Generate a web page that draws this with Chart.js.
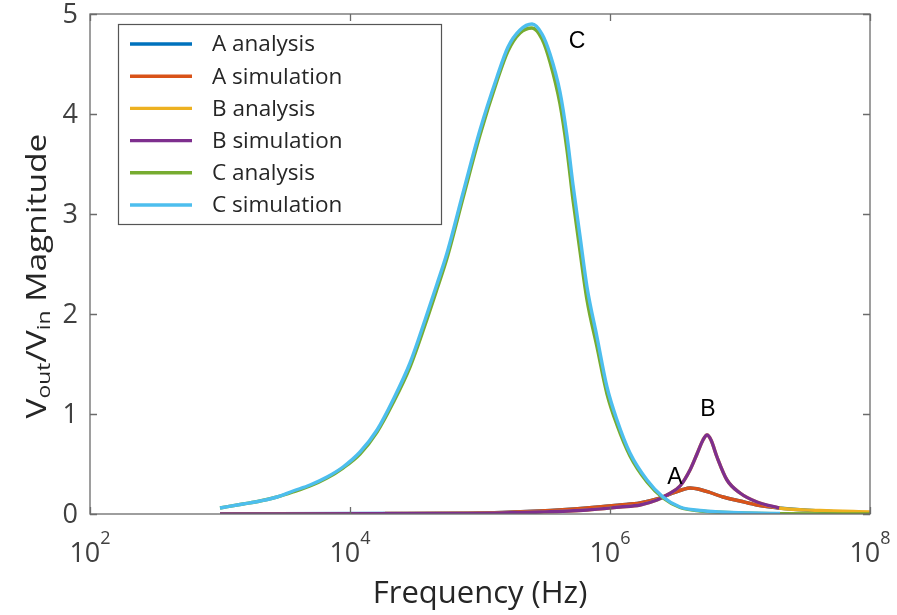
<!DOCTYPE html>
<html>
<head>
<meta charset="utf-8">
<script src="https://cdn.jsdelivr.net/npm/chart.js@4.4.0/dist/chart.umd.min.js"></script>
<style>
    html, body { margin: 0; padding: 0; background: #fff; }
    #wrap { width: 897px; height: 615px; }
</style>
</head>
<body>
<div id="wrap"><canvas id="grafico" width="897" height="615"></canvas></div>
<script>
// frecuencias (Hz) y magnitudes
const freqC = [1000, 1503, 2031, 2745, 3644, 4924, 6655, 8835, 11940, 16140, 21420, 28940, 37760, 46690, 55750, 74000, 100000, 135100, 164200, 203100, 251200, 299900, 345600, 412500, 466900, 519400, 587700, 665500, 794300, 948300, 1132000, 1425000, 1926000, 2557000, 3456000, 4924000, 7017000, 11940000, 20310000];
const cSim = [0.06, 0.10, 0.13, 0.17, 0.23, 0.29, 0.37, 0.47, 0.62, 0.84, 1.14, 1.51, 1.94, 2.30, 2.61, 3.21, 3.84, 4.37, 4.67, 4.84, 4.90, 4.80, 4.60, 4.22, 3.78, 3.29, 2.78, 2.27, 1.77, 1.27, 0.94, 0.61, 0.34, 0.17, 0.07, 0.035, 0.02, 0.01, 0.005];

const freqCa = [1000, 1503, 2031, 2745, 3644, 4924, 6655, 8835, 11940, 16140, 21420, 28940, 37760, 46690, 55750, 74000, 100000, 135100, 164200, 203100, 251200, 299900, 345600, 412500, 466900, 519400, 587700, 665500, 794300, 948300, 1132000, 1425000, 1926000, 2557000, 3456000, 4924000, 7017000, 11940000, 20310000, 100000000];
const cAna = [0.06, 0.10, 0.13, 0.17, 0.22, 0.28, 0.36, 0.46, 0.60, 0.82, 1.11, 1.47, 1.89, 2.25, 2.56, 3.16, 3.79, 4.33, 4.63, 4.81, 4.86, 4.75, 4.52, 4.10, 3.64, 3.14, 2.63, 2.14, 1.67, 1.20, 0.89, 0.58, 0.32, 0.16, 0.065, 0.03, 0.018, 0.008, 0.004, 0.0];

const freqA = [1000, 18590, 83770, 289400, 665500, 1194000, 1701000, 2299000, 3052000, 3644000, 4125000, 4924000, 5877000, 7400000, 10000000, 13510000, 20000000, 41250000, 100000000];
const aAna = [0.0, 0.005, 0.008, 0.03, 0.06, 0.09, 0.11, 0.15, 0.21, 0.245, 0.26, 0.245, 0.215, 0.17, 0.13, 0.09, 0.06, 0.03, 0.01];
const aSim = [null, 0.005, 0.008, 0.03, 0.06, 0.09, 0.11, 0.15, 0.21, 0.245, 0.26, 0.245, 0.215, 0.17, 0.13, 0.09, 0.06, null, null];

const freqB = [1000, 83770, 289400, 665500, 1194000, 1701000, 2299000, 2745000, 3456000, 4125000, 4669000, 5193000, 5575000, 5983000, 6655000, 7943000, 10000000, 13510000, 20000000, 41250000, 100000000];
const bAna = [0.0, 0.005, 0.02, 0.04, 0.07, 0.09, 0.14, 0.19, 0.28, 0.44, 0.60, 0.74, 0.79, 0.74, 0.57, 0.34, 0.21, 0.12, 0.06, 0.035, 0.02];
const bSim = [0.0, 0.005, 0.02, 0.04, 0.07, 0.09, 0.14, 0.19, 0.28, 0.44, 0.60, 0.74, 0.79, 0.74, 0.57, 0.34, 0.21, 0.12, 0.06, null, null];

const ticksX = [100, 10000, 1000000, 100000000];
const ticksXExp = ['2', '4', '6', '8'];
const ticksY = [0, 1, 2, 3, 4, 5];

const etiquetas = [
    { texto: 'C', x: 557000, y: 4.72 },
    { texto: 'B', x: 5675000, y: 1.04 },
    { texto: 'A', x: 3162000, y: 0.36 }
];

function puntos(fs, vs) {
    const out = [];
    for (let i = 0; i < fs.length; i++) {
        if (vs[i] !== null) out.push({ x: fs[i], y: vs[i] });
    }
    return out;
}

function serie(label, color, data, orden) {
    return {
        label: label,
        data: data,
        order: orden,
        borderColor: color,
        backgroundColor: color,
        borderWidth: 3.4,
        pointRadius: 0,
        fill: false,
        cubicInterpolationMode: 'monotone'
    };
}

const fuente = '"Open Sans", "Noto Sans", sans-serif';

const marcoPlugin = {
    id: 'marco',
    afterDraw(chart) {
        const ctx = chart.ctx;
        const a = chart.chartArea;
        const sx = chart.scales.x;
        const sy = chart.scales.y;
        ctx.save();

        // caja de ejes
        ctx.strokeStyle = '#6b6b6b';
        ctx.lineWidth = 1.3;
        ctx.strokeRect(a.left, a.top, a.right - a.left, a.bottom - a.top);

        // ticks hacia adentro
        ctx.beginPath();
        ticksX.forEach(v => {
            const px = Math.round(sx.getPixelForValue(v)) + 0.5;
            ctx.moveTo(px, a.bottom); ctx.lineTo(px, a.bottom - 7);
            ctx.moveTo(px, a.top); ctx.lineTo(px, a.top + 7);
        });
        ticksY.forEach(v => {
            const py = Math.round(sy.getPixelForValue(v)) + 0.5;
            ctx.moveTo(a.left, py); ctx.lineTo(a.left + 7, py);
            ctx.moveTo(a.right, py); ctx.lineTo(a.right - 7, py);
        });
        ctx.stroke();

        // etiquetas eje y
        ctx.fillStyle = '#404040';
        ctx.font = '27px ' + fuente;
        ctx.textAlign = 'right';
        ctx.textBaseline = 'middle';
        ticksY.forEach(v => {
            ctx.fillText(String(v), a.left - 12, sy.getPixelForValue(v) + 1);
        });

        // etiquetas eje x: 10 con exponente
        ticksX.forEach((v, i) => {
            const px = sx.getPixelForValue(v);
            ctx.font = '27px ' + fuente;
            const w1 = ctx.measureText('10').width;
            ctx.font = '18px ' + fuente;
            const w2 = ctx.measureText(ticksXExp[i]).width;
            const x0 = px - (w1 + w2) / 2;
            ctx.textAlign = 'left';
            ctx.textBaseline = 'alphabetic';
            ctx.font = '27px ' + fuente;
            ctx.fillText('10', x0, a.bottom + 48);
            ctx.font = '18px ' + fuente;
            ctx.fillText(ticksXExp[i], x0 + w1, a.bottom + 30);
        });

        // titulo eje x
        ctx.fillStyle = '#262626';
        ctx.font = '31px ' + fuente;
        ctx.textAlign = 'center';
        ctx.fillText('Frequency (Hz)', (a.left + a.right) / 2, a.bottom + 89);

        // titulo eje y con subindices
        const partes = [
            { t: 'V', f: 28, dy: 0 },
            { t: 'out', f: 19, dy: 7 },
            { t: '/V', f: 28, dy: 0 },
            { t: 'in', f: 19, dy: 7 },
            { t: ' Magnitude', f: 28, dy: 0 }
        ];
        let total = 0;
        partes.forEach(p => { ctx.font = p.f + 'px ' + fuente; p.w = ctx.measureText(p.t).width; total += p.w; });
        ctx.translate(38, (a.top + a.bottom) / 2 + 12);
        ctx.rotate(-Math.PI / 2);
        ctx.scale(1.2, 1);
        ctx.textAlign = 'left';
        ctx.textBaseline = 'middle';
        let xx = -total / 2;
        partes.forEach(p => {
            ctx.font = p.f + 'px ' + fuente;
            ctx.fillText(p.t, xx, p.dy);
            xx += p.w;
        });
        ctx.setTransform(1, 0, 0, 1, 0, 0);

        // etiquetas A, B, C
        ctx.fillStyle = '#000';
        ctx.font = '23px "Liberation Sans", Arial, sans-serif';
        ctx.textAlign = 'center';
        ctx.textBaseline = 'middle';
        etiquetas.forEach(e => {
            ctx.fillText(e.texto, sx.getPixelForValue(e.x), sy.getPixelForValue(e.y));
        });

        // leyenda
        const lx = a.left + 28, ly = a.top + 10, lw = 323, lh = 200;
        ctx.fillStyle = '#fff';
        ctx.fillRect(lx, ly, lw, lh);
        ctx.strokeStyle = '#555';
        ctx.lineWidth = 1.2;
        ctx.strokeRect(lx + 0.5, ly + 0.5, lw, lh);
        ctx.textAlign = 'left';
        ctx.font = '22.5px ' + fuente;
        chart.data.datasets.forEach((ds, i) => {
            const yy = ly + 20 + i * 32.2;
            ctx.strokeStyle = ds.borderColor;
            ctx.lineWidth = 3.4;
            ctx.beginPath();
            ctx.moveTo(lx + 12, yy); ctx.lineTo(lx + 74, yy);
            ctx.stroke();
            ctx.fillStyle = '#262626';
            ctx.fillText(ds.label, lx + 94, yy + 1);
        });
        ctx.restore();
    }
};

new Chart(document.getElementById('grafico'), {
    type: 'line',
    data: {
        datasets: [
            serie('A analysis', '#0072BD', puntos(freqA, aAna), 5),
            serie('A simulation', '#D95319', puntos(freqA, aSim), 4),
            serie('B analysis', '#EDB120', puntos(freqB, bAna), 3),
            serie('B simulation', '#7E2F8E', puntos(freqB, bSim), 2),
            serie('C analysis', '#77AC30', puntos(freqCa, cAna), 1),
            serie('C simulation', '#4DBEEE', puntos(freqC, cSim), 0)
        ]
    },
    options: {
        responsive: false,
        animation: false,
        layout: { padding: { left: 0, right: 27, top: 14, bottom: 0 } },
        plugins: {
            legend: { display: false },
            tooltip: { enabled: false }
        },
        scales: {
            x: {
                type: 'logarithmic',
                min: 100,
                max: 100000000,
                grid: { display: false },
                border: { display: false },
                ticks: { display: false },
                afterFit: (s) => { s.height = 101; }
            },
            y: {
                type: 'linear',
                min: 0,
                max: 5,
                grid: { display: false },
                border: { display: false },
                ticks: { display: false },
                afterFit: (s) => { s.width = 90; }
            }
        }
    },
    plugins: [marcoPlugin]
});
</script>
</body>
</html>
